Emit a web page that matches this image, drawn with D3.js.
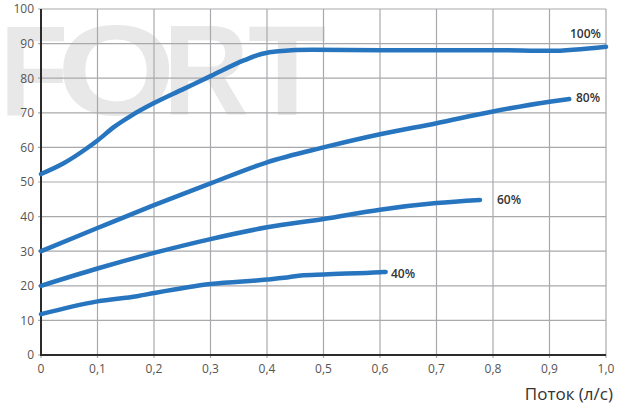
<!DOCTYPE html>
<html><head><meta charset="utf-8">
<script src="https://cdn.jsdelivr.net/npm/d3@7"></script>
<style>
html,body{margin:0;padding:0;background:#fff;}
svg{display:block;font-family:"Open Sans",sans-serif;}
</style></head>
<body>
<svg id="chart" width="631" height="407"></svg>
<script>
const xTicks = [0,0.1,0.2,0.3,0.4,0.5,0.6,0.7,0.8,0.9,1.0];
const xTickLabels = ["0","0,1","0,2","0,3","0,4","0,5","0,6","0,7","0,8","0,9","1,0"];
const yTicks = [0,10,20,30,40,50,60,70,80,90,100];
const seriesNames = ["100%","80%","60%","40%"];
const s100 = [[0,52.3],[0.04,55.4],[0.08,59.6],[0.1,62],[0.13,66],[0.16,69.2],[0.2,72.8],[0.25,76.7],[0.3,80.6],[0.36,85.2],[0.39,87],[0.42,87.8],[0.48,88.2],[0.6,88.1],[0.8,88.1],[0.9,87.9],[1.0,89.1]];
const s80 = [[0,30],[0.1,36.7],[0.2,43.3],[0.3,49.6],[0.4,55.7],[0.5,60],[0.6,63.8],[0.7,67],[0.8,70.4],[0.9,73.2],[0.935,74]];
const s60 = [[0,20],[0.1,25],[0.2,29.5],[0.3,33.5],[0.4,36.9],[0.5,39.3],[0.6,42],[0.7,43.9],[0.777,44.8]];
const s40 = [[0,11.8],[0.1,15.5],[0.17,17],[0.2,17.9],[0.3,20.5],[0.4,21.8],[0.43,22.3],[0.46,23],[0.5,23.3],[0.6,23.9],[0.61,24]];
const xTitle = "Поток (л/с)";
const watermarkLetters = ["F","O","R","T"];

const svg = d3.select("#chart");
const x = d3.scaleLinear().domain([0,1]).range([41,606]);
const y = d3.scaleLinear().domain([0,100]).range([355,9]);

// watermark (per-letter placement: [translateX, scaleX])
const wmLayout = [[0,0.87],[57,1.19],[163,0.93],[248,1.0]];
svg.append("g").selectAll("text").data(watermarkLetters).join("text")
  .attr("transform",(d,i)=>`translate(${wmLayout[i][0]},115) scale(${wmLayout[i][1]},1)`)
  .attr("font-family","'Liberation Sans',Arial,sans-serif")
  .attr("font-size",128).attr("font-weight",700)
  .attr("fill","#e8e8e8").text(d=>d);

// grid
const grid = svg.append("g");
grid.selectAll(".vg").data(xTicks).join("line")
  .attr("x1",d=>x(d)).attr("x2",d=>x(d)).attr("y1",y(100)).attr("y2",y(0)+3)
  .attr("stroke","#a9a9ad").attr("stroke-width",1.2);
grid.selectAll(".hg").data(yTicks).join("line")
  .attr("y1",d=>y(d)).attr("y2",d=>y(d)).attr("x1",x(0)-3).attr("x2",x(1))
  .attr("stroke","#a9a9ad").attr("stroke-width",1.2);

// axes
svg.append("line").attr("x1",x(0)).attr("x2",x(0)).attr("y1",y(100)).attr("y2",y(0)+1)
  .attr("stroke","#2b2b2b").attr("stroke-width",2);
svg.append("line").attr("x1",x(0)-1).attr("x2",x(1)).attr("y1",y(0)).attr("y2",y(0))
  .attr("stroke","#2b2b2b").attr("stroke-width",2);

// tick labels
svg.selectAll(".yl").data(yTicks).join("text")
  .attr("x",34).attr("y",d=>y(d)+4.3).attr("text-anchor","end")
  .attr("font-size",12).attr("fill","#555").text(d=>d);
svg.selectAll(".xl").data(xTicks).join("text")
  .attr("x",d=>x(d)).attr("y",373).attr("text-anchor","middle")
  .attr("font-size",12).attr("fill","#555").text((d,i)=>xTickLabels[i]);

svg.append("text").attr("x",613).attr("y",400).attr("text-anchor","end")
  .attr("font-size",17).attr("fill","#333").text(xTitle);

// lines
const line = d3.line().x(d=>x(d[0])).y(d=>y(d[1])).curve(d3.curveMonotoneX);
const all = [s100,s80,s60,s40];
svg.selectAll(".ln").data(all).join("path")
  .attr("d",line).attr("fill","none").attr("stroke","#2775bf")
  .attr("stroke-width",4.5).attr("stroke-linecap","round").attr("stroke-linejoin","round");

// series labels
const labelPos = [[570,38,"start"],[576,102,"start"],[497,204,"start"],[391,278,"start"]];
svg.selectAll(".sl").data(seriesNames).join("text")
  .attr("x",(d,i)=>labelPos[i][0]).attr("y",(d,i)=>labelPos[i][1])
  .attr("font-size",12).attr("font-weight",600).attr("fill","#333").text(d=>d);
</script>
</body></html>
